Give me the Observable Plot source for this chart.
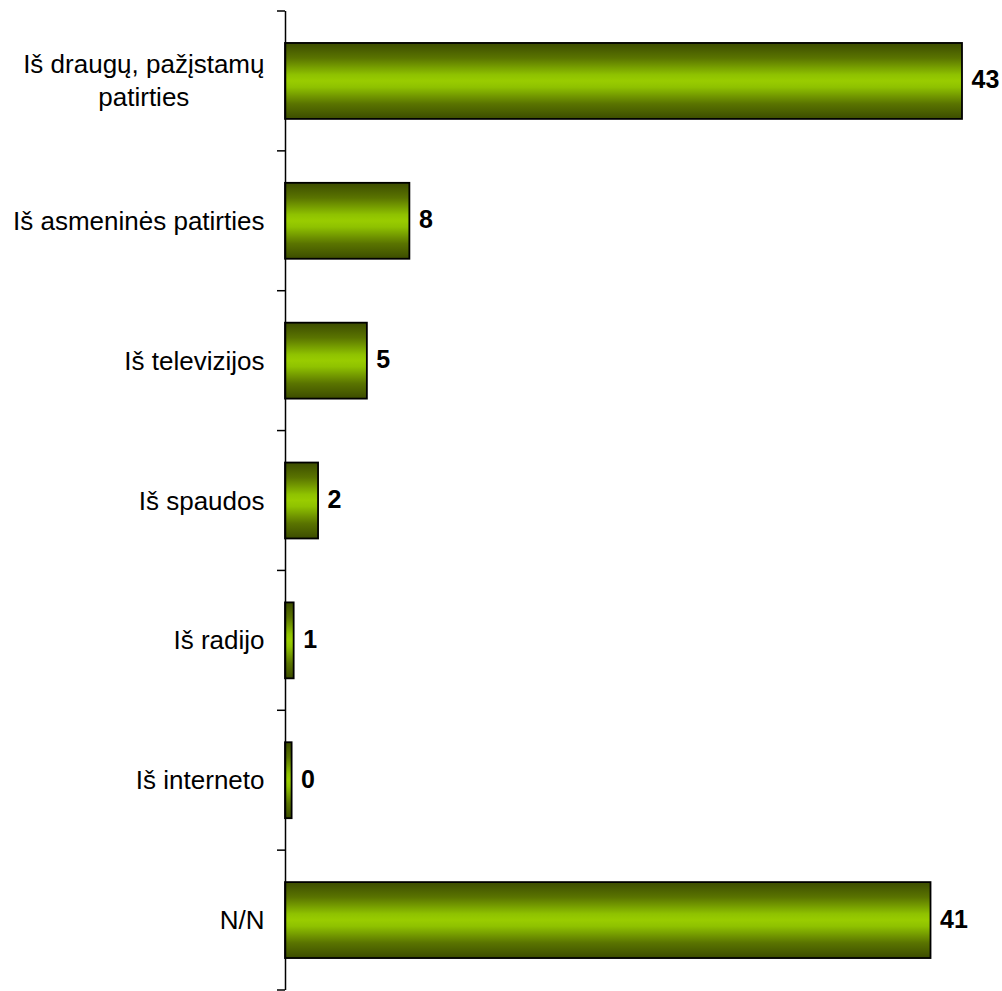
<!DOCTYPE html>
<html><head><meta charset="utf-8">
<script src="https://cdn.jsdelivr.net/npm/d3@7"></script>
<script src="https://cdn.jsdelivr.net/npm/@observablehq/plot@0.6"></script>
<style>body{margin:0;background:#fff} svg{display:block}</style>
</head><body><div id="chart"></div>
<script>
const categories = ["Iš draugų, pažįstamų\npatirties", "Iš asmeninės patirties", "Iš televizijos", "Iš spaudos", "Iš radijo", "Iš interneto", "N/N"];
const values = [43, 7.9, 5.2, 2.1, 0.55, 0.42, 41];
const valueLabels = ["43", "8", "5", "2", "1", "0", "41"];
const data = categories.map((c, i) => ({category: c, value: values[i], label: valueLabels[i]}));

function boundaryTicks(...args) {
  const dims = args.find(a => a && typeof a === "object" && "marginTop" in a);
  const scales = args.find(a => a && typeof a === "object" && typeof a.x === "function");
  const x0 = scales.x(0);
  const n = categories.length;
  const top = dims.marginTop, bottom = dims.height - dims.marginBottom;
  const g = d3.create("svg:g");
  for (let i = 0; i <= n; i++) {
    const y = top + i * (bottom - top) / n;
    g.append("line").attr("x1", x0 - 8).attr("x2", x0).attr("y1", y).attr("y2", y)
      .attr("stroke", "#000").attr("stroke-width", 1.5);
  }
  return g.node();
}

const chart = Plot.plot({
  width: 1002, height: 991,
  marginLeft: 285, marginRight: 40, marginTop: 11, marginBottom: 1,
  style: {fontFamily: "'Liberation Sans', Arial, sans-serif", background: "#fff", color: "#000"},
  x: {domain: [0, 43], axis: null},
  y: {domain: categories, axis: null, paddingInner: 0.457, paddingOuter: 0.2285, round: false},
  marks: [
    Plot.barX(data, {x: "value", y: "category", fill: "url(#barGrad)", stroke: "#000", strokeWidth: 1.8}),
    Plot.ruleX([0], {stroke: "#000", strokeWidth: 1.5}),
    boundaryTicks,
    Plot.text(data, {x: 0, y: "category", text: "category", textAnchor: "end", dx: -21, dy: -2, fontSize: 26, lineHeight: 1.27, fill: "#000"}),
    Plot.text(data, {x: "value", y: "category", text: "label", textAnchor: "start", dx: 9, dy: -1, fontSize: 25, fontWeight: "bold", fill: "#000"})
  ]
});

document.getElementById("chart").append(chart);
const svg = chart.tagName.toLowerCase() === "svg" ? chart : chart.querySelector("svg");
const defs = d3.select(svg).insert("defs", ":first-child");
const grad = defs.append("linearGradient").attr("id", "barGrad")
  .attr("x1", 0).attr("y1", 0).attr("x2", 0).attr("y2", 1);
[[0, "#3c4c00"], [0.2, "#5a7400"], [0.42, "#8fc200"], [0.5, "#99cc00"], [0.58, "#8fc200"], [0.8, "#5a7400"], [1, "#3c4c00"]]
  .forEach(([o, c]) => grad.append("stop").attr("offset", o).attr("stop-color", c));

svg.querySelectorAll("text").forEach(t => {
  const ts = t.querySelectorAll("tspan");
  if (ts.length > 1) {
    const w = t.getBBox().width;
    t.setAttribute("text-anchor", "middle");
    ts.forEach(s => s.setAttribute("x", -w / 2));
  }
});
</script>
</body></html>
